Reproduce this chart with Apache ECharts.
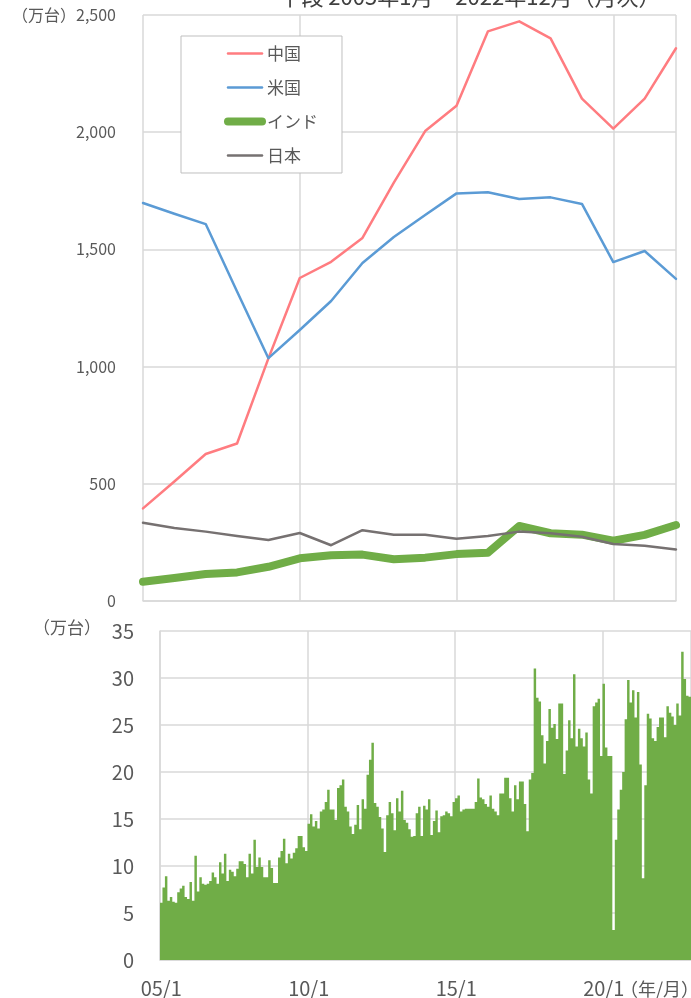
<!DOCTYPE html>
<html><head><meta charset="utf-8">
<script src="https://cdn.jsdelivr.net/npm/echarts@6/dist/echarts.min.js"></script>
<style>html,body{margin:0;padding:0;background:#fff}#c{width:691px;height:998px}</style>
</head><body><div id="c"></div>
<script>
// ---- annual data (万台) ----
const years = [2005,2006,2007,2008,2009,2010,2011,2012,2013,2014,2015,2016,2017,2018,2019,2020,2021,2022];
const china = [395,510,627,672,1035,1378,1447,1549,1785,2005,2113,2430,2473,2400,2143,2015,2143,2358];
const usa   = [1698,1652,1608,1320,1036,1156,1280,1442,1553,1647,1739,1744,1715,1722,1694,1446,1493,1374];
const india = [82,98,115,122,146,182,195,198,178,185,200,206,320,289,283,257,282,324];
const japan = [334,311,296,277,260,290,238,302,283,283,266,277,296,289,274,243,236,220];
const seriesNames = ['中国','米国','インド','日本'];
const topYTicks = [0,500,1000,1500,2000,2500];

// ---- monthly India data (万台), one array per year ----
const m2005 = [6.1,7.7,8.9,6.3,6.7,6.2,6.1,7.2,7.6,7.9,6.7,6.5];
const m2006 = [8.3,6.3,11.1,7.3,8.8,8.1,8.0,8.1,8.4,9.3,8.8,8.1];
const m2007 = [10.4,9.2,11.3,8.4,9.6,9.4,8.9,9.7,10.5,10.5,10.2,8.8];
const m2008 = [11.3,9.2,12.8,9.9,10.9,9.9,8.8,8.8,10.6,9.8,8.2,8.2];
const m2009 = [10.9,11.6,12.9,10.3,11.3,10.8,11.4,11.9,13.2,13.2,12.0,11.6];
const m2010 = [14.5,15.5,14.2,14.8,14.0,15.8,16.0,16.8,18.1,16.0,16.0,14.9];
const m2011 = [18.3,18.6,19.2,16.3,15.8,14.2,13.4,14.4,16.5,13.9,17.1,16.1];
const m2012 = [19.7,21.3,23.1,16.7,16.3,15.2,14.0,11.5,15.4,16.8,15.6,13.8];
const m2013 = [17.2,15.8,18.0,14.9,14.6,13.9,13.1,13.2,15.6,16.3,13.2,16.4];
const m2014 = [16.0,17.1,13.3,14.8,15.9,13.6,15.3,15.4,15.8,15.6,15.3,16.8];
const m2015 = [17.2,17.5,15.8,16.0,16.1,16.1,16.1,16.1,16.8,19.3,17.3,17.1];
const m2016 = [16.6,16.3,17.5,16.1,15.8,15.4,17.7,17.7,19.4,19.4,17.2,15.8];
const m2017 = [18.6,17.1,19.0,19.0,16.6,13.7,19.2,19.9,31.0,27.9,27.5,23.9];
const m2018 = [20.9,23.3,26.7,24.7,25.1,23.5,27.3,27.3,19.8,22.3,25.5,23.6];
const m2019 = [30.4,22.7,24.6,23.6,22.7,24.2,19.2,17.7,27.0,27.4,27.8,21.7];
const m2020 = [29.4,22.6,21.7,21.7,3.2,12.8,16.0,18.1,20.0,25.6,29.8,27.4];
const m2021 = [28.7,25.8,28.5,20.8,8.7,18.6,26.2,25.7,23.6,23.3,24.8,25.8];
const m2022 = [25.8,23.7,27.0,26.3,25.9,25.0,27.3,26.0,32.8,29.9,28.1,28.0];
const bottomYTicks = [0,5,10,15,20,25,30,35];

const monthly = [].concat(m2005,m2006,m2007,m2008,m2009,m2010,m2011,m2012,m2013,m2014,m2015,m2016,m2017,m2018,m2019,m2020,m2021,m2022);
const monthCats = [];
for (let y = 2005; y <= 2022; y++) for (let m = 1; m <= 12; m++) monthCats.push(String(y % 100).padStart(2,'0') + '/' + m);

const FONT = "'Noto Sans CJK JP', 'Noto Sans', sans-serif";
const TXT = '#595959';
const GRID = '#d9d9d9';
const colors = ['#FF7C80','#5B9BD5','#70AD47','#767171'];
const widths = [2.5,2.5,8,2.5];
const topData = [china, usa, india, japan];

const chart = echarts.init(document.getElementById('c'), null, {renderer:'canvas'});
chart.setOption({
  animation:false,
  backgroundColor:'#fff',
  textStyle:{fontFamily:FONT},
  grid:[
    {left:143, top:15, width:533, height:586},
    {left:160, top:631, width:531, height:330}
  ],
  legend:{
    data: seriesNames.map((n,k) => ({name:n, lineStyle:{width:widths[k], cap:'round', color:colors[k]}})),
    orient:'vertical', left:181, top:36,
    padding:[9,24,9,43], itemGap:17, itemWidth:34, itemHeight:14,
    backgroundColor:'#fff', borderColor:'#bfbfbf', borderWidth:1,
    itemStyle:{opacity:0},
    textStyle:{fontSize:17, color:TXT, fontFamily:FONT}
  },
  xAxis:[
    {gridIndex:0, type:'value', min:2005, max:2022, interval:5,
     axisLabel:{show:false}, axisTick:{show:false},
     axisLine:{show:true, lineStyle:{color:GRID, width:1.5}},
     splitLine:{show:true, lineStyle:{color:GRID, width:1.5}}},
    {gridIndex:1, type:'category', data:monthCats, boundaryGap:true,
     axisTick:{show:false},
     axisLine:{show:true, lineStyle:{color:GRID, width:1.5}},
     splitLine:{show:true, interval:59, lineStyle:{color:GRID, width:1.5}},
     axisLabel:{interval:59, fontSize:20, color:TXT, margin:18, fontFamily:FONT}}
  ],
  yAxis:[
    {gridIndex:0, type:'value', min:topYTicks[0], max:topYTicks[topYTicks.length-1], interval:500,
     axisLine:{show:false}, axisTick:{show:false},
     splitLine:{lineStyle:{color:GRID, width:1.5}},
     axisLabel:{fontSize:16, color:TXT, margin:27, fontFamily:FONT,
       formatter:v => (v === 2500 ? '（万台）' : '') + v.toLocaleString('en-US')}},
    {gridIndex:1, type:'value', min:bottomYTicks[0], max:bottomYTicks[bottomYTicks.length-1], interval:5,
     axisLine:{show:true, lineStyle:{color:GRID, width:1.5}}, axisTick:{show:false},
     splitLine:{lineStyle:{color:GRID, width:1.5}},
     axisLabel:{fontSize:20, color:TXT, margin:26, fontFamily:FONT}}
  ],
  series: seriesNames.map((n,k) => ({
    name:n, type:'line', xAxisIndex:0, yAxisIndex:0, symbol:'none',
    data: years.map((y,i) => [y, topData[k][i]]),
    itemStyle:{color:colors[k]},
    lineStyle:{color:colors[k], width:widths[k], cap:'round', join:'round'}
  })).concat([{
    name:'インド月次', type:'bar', xAxisIndex:1, yAxisIndex:1,
    data: monthly, barCategoryGap:'0%', large:true, largeThreshold:50,
    itemStyle:{color:'#70AD47'}
  }]),
  graphic:[
    {type:'text', x:470, y:-3, style:{text:'下段 2005年1月～2022年12月（月次）', fontSize:22, fill:'#404040', fontFamily:FONT, align:'center', verticalAlign:'middle'}},
    {type:'text', x:67, y:628, style:{text:'（万台）', fontSize:17, fill:TXT, fontFamily:FONT, align:'center', verticalAlign:'middle'}},
    {type:'text', x:620, y:989, style:{text:'（年/月）', fontSize:18, fill:TXT, fontFamily:FONT, align:'left', verticalAlign:'middle'}}
  ]
});
</script></body></html>
